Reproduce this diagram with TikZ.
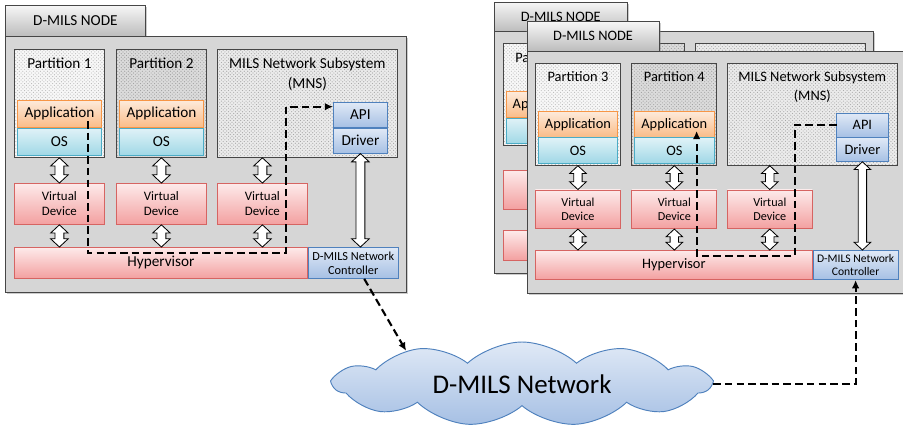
\documentclass[tikz,border=0pt]{standalone}
\usepackage{fontspec}
\setmainfont{Carlito}
\usetikzlibrary{arrows.meta}
\usetikzlibrary{positioning}
\usetikzlibrary{calc}
\usetikzlibrary{shapes.symbols}
\usetikzlibrary{shadows}
\usetikzlibrary{patterns}
\definecolor{nodegray}{RGB}{214,214,214}
\definecolor{edgegray}{RGB}{70,70,70}
\definecolor{tabtop}{RGB}{246,246,246}
\definecolor{tabbottom}{RGB}{188,188,188}
\definecolor{apptop}{RGB}{253,234,218}
\definecolor{appbottom}{RGB}{250,188,136}
\definecolor{appedge}{RGB}{247,150,70}
\definecolor{ostop}{RGB}{224,242,247}
\definecolor{osbottom}{RGB}{160,216,230}
\definecolor{osedge}{RGB}{75,172,198}
\definecolor{ctltop}{RGB}{224,233,246}
\definecolor{ctlbottom}{RGB}{166,192,228}
\definecolor{ctledge}{RGB}{79,129,189}
\definecolor{vdtop}{RGB}{253,234,234}
\definecolor{vdbottom}{RGB}{243,160,160}
\definecolor{vdedge}{RGB}{214,100,98}

\newcommand{\dmilsnode}[3]{%
  \node[nodetab, box={140}{31}] (#1tab) at (5,5) {D-MILS NODE};
  \node[nodebody, box={401}{256}] (#1body) at (5,36) {};

  \node[partA, box={90}{108}] (#1p1) at (14,49) {};
  \node[ptitle] (#1p1t) at (#1p1.north) {#2};
  \node[app, box={84}{27}] (#1app1) at (17,100) {Application};
  \node[os, box={84}{27}, below=0pt of #1app1] (#1os1) {OS};

  \node[partB, box={90}{108}] (#1p2) at (116,49) {};
  \node[ptitle] (#1p2t) at (#1p2.north) {#3};
  \node[app, box={84}{27}] (#1app2) at (119,100) {Application};
  \node[os, box={84}{27}, below=0pt of #1app2] (#1os2) {OS};

  \node[mns, box={180}{108}] (#1mns) at (217,49) {};
  \node[ptitle, align=center, font=\fontsize{13}{17}\selectfont] (#1mnst) at (#1mns.north)
    {MILS Network Subsystem\\(MNS)};
  \node[ctl, box={54}{25}] (#1api) at (333,102) {API};
  \node[ctl, box={54}{25}, below=0pt of #1api] (#1drv) {Driver};

  \foreach \i/\x in {1/14, 2/116, 3/217}
    {\node[vdev, box={90}{41}] (#1vd\i) at (\x,183) {Virtual\\Device};}
  \node[vdev, box={293}{31}, font=\fontsize{13}{16}\selectfont] (#1hyp) at (14,247) {Hypervisor};
  \node[ctl, box={90}{31}, right=0pt of #1hyp, align=center,
    font=\fontsize{10.5}{12}\selectfont] (#1ctrl) {D-MILS Network\\Controller};

  \path (#1mns.south -| #1vd3.north) coordinate (#1a3);
  \foreach \i in {1,2,3} {\path (#1vd\i.south |- #1hyp.north) coordinate (#1h\i);}
  \path (#1drv.south |- #1ctrl.north) coordinate (#1h4);

  \draw[blockarrow] (#1p1.south) to (#1vd1.north);
  \draw[blockarrow] (#1p2.south) to (#1vd2.north);
  \draw[blockarrow] (#1a3) to (#1vd3.north);
  \foreach \i in {1,2,3} {\draw[blockarrow] (#1vd\i.south) to (#1h\i);}
  \draw[blockarrow] (#1drv.south) to (#1h4);
}

\begin{document}
\begin{tikzpicture}[x=0.3mm, y=-0.3mm, font=\fontsize{13}{16}\selectfont,
    box/.style 2 args={anchor=north west, inner sep=0pt,
      minimum width=#1*0.3mm, minimum height=#2*0.3mm},
    nodebody/.style={draw=edgegray, line width=0.7pt, fill=nodegray,
      drop shadow={shadow xshift=1.5pt, shadow yshift=-1.5pt, opacity=.4}},
    nodetab/.style={draw=edgegray, line width=0.7pt, top color=tabtop, bottom color=tabbottom,
      drop shadow={shadow xshift=1.5pt, shadow yshift=-1.5pt, opacity=.4}},
    partA/.style={draw=edgegray, line width=0.7pt, preaction={fill=gray!6},
      pattern=crosshatch dots, pattern color=gray!55},
    partB/.style={draw=edgegray, line width=0.7pt, preaction={fill=gray!28},
      pattern=crosshatch dots, pattern color=gray!75},
    mns/.style={draw=edgegray, line width=0.7pt, preaction={fill=gray!16},
      pattern=crosshatch dots, pattern color=gray!70},
    ptitle/.style={anchor=north, inner sep=7.8pt},
    app/.style={draw=appedge, line width=0.7pt, top color=apptop, bottom color=appbottom},
    os/.style={draw=osedge, line width=0.7pt, top color=ostop, bottom color=osbottom},
    ctl/.style={draw=ctledge, line width=0.7pt, top color=ctltop, bottom color=ctlbottom},
    vdev/.style={draw=vdedge, line width=0.7pt, top color=vdtop, bottom color=vdbottom,
      align=center, font=\fontsize{11}{13}\selectfont},
    blockarrow/.style={draw=black, fill=white, line width=0.7pt, to path={
      -- ($(\tikztostart)!7pt!(\tikztotarget)!7.5pt!90:(\tikztotarget)$)
      -- ($(\tikztostart)!7pt!(\tikztotarget)!3.8pt!90:(\tikztotarget)$)
      -- ($(\tikztotarget)!7pt!(\tikztostart)!3.8pt!-90:(\tikztostart)$)
      -- ($(\tikztotarget)!7pt!(\tikztostart)!7.5pt!-90:(\tikztostart)$)
      -- (\tikztotarget)
      -- ($(\tikztotarget)!7pt!(\tikztostart)!7.5pt!90:(\tikztostart)$)
      -- ($(\tikztotarget)!7pt!(\tikztostart)!3.8pt!90:(\tikztostart)$)
      -- ($(\tikztostart)!7pt!(\tikztotarget)!3.8pt!-90:(\tikztotarget)$)
      -- ($(\tikztostart)!7pt!(\tikztotarget)!7.5pt!-90:(\tikztotarget)$)
      -- cycle}},
    msg/.style={draw=black, line width=1.8pt, dash pattern=on 6.5pt off 3.5pt,
      -{Latex[length=7pt, width=6.5pt]}},
    netcloud/.style={cloud, cloud puffs=11, cloud puff arc=85, cloud ignores aspect,
      draw=ctledge, line width=0.8pt, top color=ctltop, bottom color=ctlbottom,
      minimum width=376*0.3mm, minimum height=84*0.3mm, inner sep=0pt,
      font=\fontsize{23}{26}\selectfont}]

  \useasboundingbox (0,0) rectangle (903,428);

  \dmilsnode{L-}{Partition 1}{Partition 2}

  \coordinate (m1) at (88,121);
  \coordinate (m2) at (286,253);
  \draw[msg] (m1) |- (m2) |- ([yshift=7pt]L-api.west);

  \begin{scope}[shift={(489.5,-3)}, scale=0.945, transform shape]
    \dmilsnode{B-}{Partition 1}{Partition 2}
  \end{scope}

  \begin{scope}[shift={(521.8,16.6)}, scale=0.945, transform shape]
    \dmilsnode{R-}{Partition 3}{Partition 4}
    \coordinate (n1) at (185,121);
    \coordinate (n2) at (289,253);
    \draw[msg] (R-api.west) -| (n2) -| (n1);
  \end{scope}

  \node[netcloud] (cloud) at (522,384) {D-MILS Network};

  \draw[msg] ([xshift=3.3mm]L-ctrl.south) -- (cloud.164);
  \draw[msg] (cloud.east) -| (R-ctrl.south);
\end{tikzpicture}
\end{document}
